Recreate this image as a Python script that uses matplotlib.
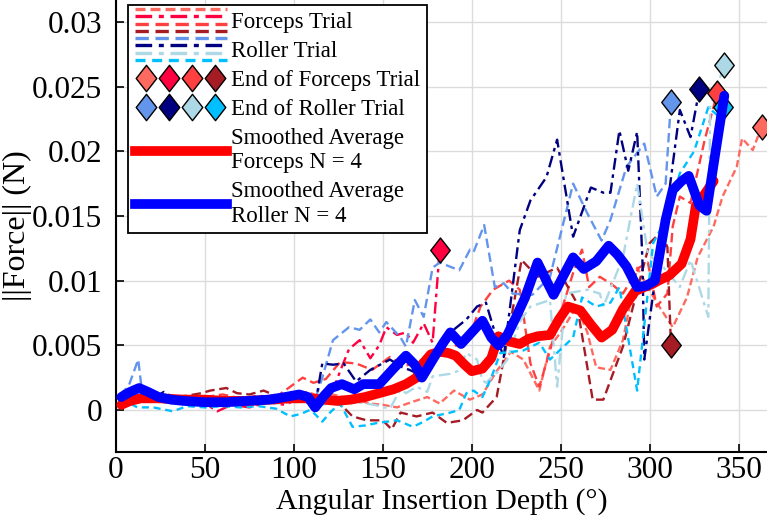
import numpy as np
import matplotlib
matplotlib.use("Agg")
import matplotlib.pyplot as plt
from matplotlib.lines import Line2D
from matplotlib.path import Path
from matplotlib.legend_handler import HandlerBase, HandlerTuple

plt.rcParams['font.family'] = ['Liberation Serif', 'DejaVu Serif']
plt.rcParams['mathtext.fontset'] = 'stix'

# ---------------- data ----------------
f1_x = [3, 10, 20, 30, 40, 50, 60, 70, 80, 90, 100, 108, 115, 122, 130, 137, 143, 150, 158, 166, 175, 182,
        190, 199, 206, 214, 222, 229, 238, 244, 250, 259, 265, 270, 278, 285, 293, 299, 304, 313, 321, 327,
        336, 341, 349, 352, 358, 363]
f1_y = [0.0006, 0.0009, 0.0007, 0.0008, 0.0009, 0.0008, 0.0010, 0.0009, 0.0008, 0.0010, 0.0012, 0.0014,
        0.0010, 0.0012, 0.0009, 0.0007, 0.0005, 0.0004, 0.0002, 0.0006, 0.0010, 0.0005, 0.0015, 0.0008,
        0.0012, 0.0030, 0.0045, 0.0039, 0.0015, 0.0049, 0.0060, 0.0080, 0.0060, 0.0033, 0.0031, 0.0054,
        0.0110, 0.0095, 0.0083, 0.0064, 0.0087, 0.0118, 0.0142, 0.0165, 0.0188, 0.0210, 0.0201, 0.0219]

f2_x = [3, 10, 20, 30, 40, 50, 57, 65, 75, 85, 95, 105, 112, 118, 122, 126, 131, 137, 143, 148, 152, 158,
        163, 167, 173, 178, 182]
f2_y = [0.0008, 0.0010, 0.0007, 0.0009, 0.0006, 0.0005, -0.0001, 0.0004, 0.0002, 0.0006, 0.0004, 0.0010,
        0.0008, 0.0008, 0.0015, 0.0030, 0.0047, 0.0054, 0.0040, 0.0050, 0.0064, 0.0058, 0.0060, 0.0052,
        0.0067, 0.0052, 0.0124]

f3_x = [3, 10, 20, 30, 40, 50, 60, 70, 80, 90, 98, 105, 111, 118, 126, 135, 144, 154, 162, 170, 178, 185,
        192, 199, 205, 212, 221, 227, 233, 238, 244, 250, 257, 262, 266, 272, 279, 285, 294, 299, 304, 310,
        313, 317, 323, 331, 338]
f3_y = [0.0008, 0.0012, 0.0010, 0.0011, 0.0009, 0.0010, 0.0012, 0.0009, 0.0011, 0.0010, 0.0018, 0.0025,
        0.0021, 0.0024, 0.0037, 0.0036, 0.0031, 0.0041, 0.0034, 0.0037, 0.0045, 0.0042, 0.0051, 0.0058,
        0.0080, 0.0093, 0.0100, 0.0093, 0.0036, 0.0018, 0.0046, 0.0075, 0.0106, 0.0124, 0.0095, 0.0103,
        0.0097, 0.0090, 0.0110, 0.0114, 0.0080, 0.0090, 0.0142, 0.0165, 0.0160, 0.0209, 0.0245]

f4_x = [3, 10, 20, 30, 40, 48, 53, 62, 68, 75, 83, 90, 98, 105, 111, 116, 122, 128, 133, 141, 150, 155,
        160, 169, 178, 186, 195, 203, 206, 214, 220, 228, 237, 248, 259, 268, 274, 285, 294, 300, 306, 310,
        312]
f4_y = [0.0009, 0.0010, 0.0012, 0.0010, 0.0011, 0.0013, 0.0015, 0.0017, 0.0013, 0.0012, 0.0015, 0.0011,
        0.0009, 0.0010, 0.0000, 0.0006, 0.0008, 0.0002, -0.0005, -0.0008, -0.0008, -0.0015, -0.0002,
        -0.0005, -0.0002, -0.0010, -0.0008, 0.0000, -0.0002, 0.0010, 0.0054, 0.0116, 0.0103, 0.0110,
        0.0083, 0.0008, 0.0008, 0.0049, 0.0098, 0.0129, 0.0137, 0.0126, 0.0050]

r1_x = [2, 7, 12.5, 15, 22, 30, 40, 50, 60, 70, 80, 90, 100, 108, 112, 116, 122, 131, 137, 143, 148, 152,
        160, 163, 168, 173, 178, 182, 193, 199, 201, 207, 213, 218, 223, 234, 244, 257, 265, 273, 278, 287,
        297, 304, 309, 312]
r1_y = [0.0012, 0.0018, 0.0039, 0.0010, 0.0008, 0.0007, 0.0006, 0.0007, 0.0006, 0.0007, 0.0006, 0.0008,
        0.0009, 0.0010, 0.0008, 0.0025, 0.0054, 0.0064, 0.0062, 0.0070, 0.0060, 0.0068, 0.0056, 0.0049,
        0.0085, 0.0072, 0.0110, 0.0114, 0.0108, 0.0124, 0.0122, 0.0143, 0.0095, 0.0098, 0.0090, 0.0089,
        0.0103, 0.0175, 0.0152, 0.0131, 0.0147, 0.0188, 0.0206, 0.0165, 0.0175, 0.0238]

r2_x = [3, 8, 14, 20, 27, 33, 40, 50, 60, 70, 80, 90, 100, 108, 112, 116, 122, 128, 135, 143, 154, 161,
        165, 173, 180, 188, 197, 203, 208, 213, 218, 227, 233, 242, 248, 257, 267, 274, 278, 283, 288, 293,
        296, 297, 302, 308, 317, 323, 328]
r2_y = [0.0009, 0.0010, 0.0008, 0.0009, 0.0014, 0.0009, 0.0008, 0.0007, 0.0008, 0.0007, 0.0008, 0.0009,
        0.0010, 0.0010, 0.0004, 0.0036, 0.0035, 0.0036, 0.0022, 0.0031, 0.0039, 0.0033, 0.0031, 0.0026,
        0.0041, 0.0060, 0.0070, 0.0080, 0.0083, 0.0060, 0.0041, 0.0139, 0.0162, 0.0180, 0.0209, 0.0134,
        0.0172, 0.0168, 0.0168, 0.0216, 0.0185, 0.0215, 0.0114, 0.0039, 0.0090, 0.0137, 0.0232, 0.0211,
        0.0248]

r3_x = [3, 10, 20, 30, 40, 50, 60, 70, 80, 90, 100, 110, 116, 125, 135, 145, 154, 160, 163, 169, 175, 178,
        188, 192, 197, 203, 206, 208, 215, 220, 227, 233, 244, 248, 253, 265, 272, 274, 285, 293, 299, 308,
        317, 323, 333, 334, 342]
r3_y = [0.0008, 0.0006, 0.0007, 0.0005, 0.0006, 0.0005, 0.0006, 0.0005, 0.0006, 0.0005, 0.0006, 0.0007,
        0.0004, 0.0007, 0.0006, 0.0004, 0.0001, 0.0016, 0.0013, 0.0018, 0.0014, 0.0026, 0.0028, 0.0030,
        0.0044, 0.0039, 0.0023, 0.0021, 0.0030, 0.0039, 0.0068, 0.0080, 0.0085, 0.0018, 0.0090, 0.0093,
        0.0090, 0.0080, 0.0118, 0.0175, 0.0121, 0.0110, 0.0095, 0.0116, 0.0072, 0.0234, 0.0267]

r4_x = [3, 8, 12, 21, 32, 40, 50, 60, 70, 80, 90, 98, 104, 109, 111, 116, 121, 126, 133, 140, 147, 158,
        167, 173, 178, 188, 193, 197, 201, 206, 211, 216, 229, 238, 244, 257, 262, 270, 278, 283, 293, 302,
        310, 317, 325, 333, 338, 341]
r4_y = [0.0010, 0.0005, 0.0002, 0.0002, -0.0001, 0.0003, 0.0002, 0.0003, 0.0002, 0.0003, 0.0001, -0.0005,
        -0.0003, 0.0000, -0.0002, -0.0009, -0.0001, 0.0005, -0.0013, -0.0012, -0.0010, -0.0008, -0.0013,
        -0.0009, -0.0005, -0.0002, 0.0000, 0.0013, 0.0015, 0.0010, 0.0025, 0.0044, 0.0046, 0.0052, 0.0039,
        0.0056, 0.0087, 0.0080, 0.0083, 0.0095, 0.0015, 0.0129, 0.0150, 0.0183, 0.0200, 0.0234, 0.0228,
        0.0234]

avg_f_x = [3, 8, 14, 25, 38, 50, 62, 75, 86, 98, 104, 110, 117, 124, 132, 140, 148, 156, 163, 169, 172,
           177, 182, 187, 191, 196, 200, 206, 211, 215, 221, 227, 232, 237, 244, 249, 254, 261, 267, 273,
           279, 285, 292, 297, 301, 305, 311, 318, 323, 326, 330, 336]
avg_f_y = [0.0004, 0.0007, 0.0009, 0.0009, 0.0008, 0.0008, 0.0007, 0.0007, 0.0008, 0.0009, 0.0009, 0.0009,
           0.0008, 0.0007, 0.0008, 0.0010, 0.0013, 0.0016, 0.0020, 0.0025, 0.0035, 0.0043, 0.0045, 0.0044,
           0.0042, 0.0035, 0.0030, 0.0032, 0.0040, 0.0057, 0.0053, 0.0051, 0.0055, 0.0057, 0.0058, 0.0070,
           0.0080, 0.0077, 0.0066, 0.0056, 0.0062, 0.0078, 0.0092, 0.0095, 0.0097, 0.0100, 0.0104, 0.0113,
           0.0132, 0.0158, 0.0165, 0.0177]

avg_r_x = [3, 8, 13, 18, 24, 31, 38, 50, 62, 74, 86, 95, 103, 108, 112, 117, 121, 127, 134, 139, 148, 152,
           156, 163, 168, 172, 179, 184, 188, 194, 200, 206, 211, 215, 220, 225, 230, 237, 242, 246, 252,
           257, 263, 270, 277, 282, 287, 293, 298, 303, 309, 313, 318, 322, 328, 332, 337, 342]
avg_r_y = [0.0010, 0.0014, 0.0017, 0.0014, 0.0010, 0.0008, 0.0007, 0.0006, 0.0006, 0.0007, 0.0008, 0.0010,
           0.0012, 0.0010, 0.0002, 0.0011, 0.0017, 0.0020, 0.0016, 0.0020, 0.0020, 0.0026, 0.0032, 0.0042,
           0.0035, 0.0025, 0.0041, 0.0052, 0.0060, 0.0051, 0.0060, 0.0069, 0.0056, 0.0050, 0.0058, 0.0072,
           0.0087, 0.0114, 0.0100, 0.0089, 0.0105, 0.0118, 0.0109, 0.0115, 0.0127, 0.0120, 0.0111, 0.0095,
           0.0096, 0.0100, 0.0147, 0.0170, 0.0177, 0.0181, 0.0158, 0.0154, 0.0199, 0.0243]

x_ticks = [0, 50, 100, 150, 200, 250, 300, 350]
y_ticks = [0, 0.005, 0.01, 0.015, 0.02, 0.025, 0.03]
y_tick_labels = ['0', '0.005', '0.01', '0.015', '0.02', '0.025', '0.03']

forceps = [(f1_x, f1_y), (f2_x, f2_y), (f3_x, f3_y), (f4_x, f4_y)]
roller = [(r1_x, r1_y), (r2_x, r2_y), (r3_x, r3_y), (r4_x, r4_y)]

# ---------------- styles ----------------
f_colors = ['#FF6A60', '#FF0040', '#FF4040', '#A51C24']
r_colors = ['#6495ED', '#000080', '#ADD8E6', '#00BFFF']
f_styles = [(0, (3, 1.5)), (0, (5, 2, 1.5, 2)), (0, (4, 2)), (0, (4, 2))]
r_styles = [(0, (4, 2)), (0, (5, 2, 1.5, 2)), (0, (5, 2, 1.5, 2)), (0, (3, 2))]

diamond = Path([(0, 1), (0.78, 0), (0, -1), (-0.78, 0), (0, 1)],
               [Path.MOVETO, Path.LINETO, Path.LINETO, Path.LINETO, Path.CLOSEPOLY])

fig = plt.figure(figsize=(7.67, 5.16), dpi=100)
ax = fig.add_axes([0.1512, 0.124, 0.8488, 0.876])

for (x, y), c, ls in zip(forceps, f_colors, f_styles):
    ax.plot(x, y, color=c, linestyle=ls, lw=1.7, zorder=2)
for (x, y), c, ls in zip(roller, r_colors, r_styles):
    ax.plot(x, y, color=c, linestyle=ls, lw=1.7, zorder=2)

for (x, y), c in zip(forceps, f_colors):
    ax.plot([x[-1]], [y[-1]], marker=diamond, ms=18, mfc=c, mec='black', mew=1.0,
            linestyle='none', zorder=3)
for (x, y), c in zip(roller, r_colors):
    ax.plot([x[-1]], [y[-1]], marker=diamond, ms=18, mfc=c, mec='black', mew=1.0,
            linestyle='none', zorder=3)

ax.plot(avg_f_x, avg_f_y, color='#FF0000', lw=7, zorder=4, solid_joinstyle='round',
        solid_capstyle='round')
ax.plot(avg_r_x, avg_r_y, color='#0000FF', lw=7, zorder=5, solid_joinstyle='round',
        solid_capstyle='round')

ax.set_xlim(0, 366)
ax.set_ylim(-0.00325, 0.0317)
ax.set_xticks(x_ticks)
ax.set_yticks(y_ticks)
ax.set_yticklabels(y_tick_labels)
ax.tick_params(direction='in', length=6, width=1.2, labelsize=22.5, top=False, right=False)
ax.tick_params(axis='x', pad=3)
ax.tick_params(axis='y', pad=10)
ax.grid(True, color='#DCDCDC', lw=1.0)
ax.set_axisbelow(True)
for s in ['top', 'right']:
    ax.spines[s].set_visible(False)
for s in ['left', 'bottom']:
    ax.spines[s].set_linewidth(1.5)
ax.set_xlabel('Angular Insertion Depth (°)', fontsize=21.5, labelpad=2)
ax.set_ylabel('||Force|| (N)', fontsize=23, labelpad=0)


# ---------------- legend ----------------
class StackedLines(HandlerBase):
    def __init__(self, colors, styles):
        super().__init__()
        self.colors = colors
        self.styles = styles

    def create_artists(self, legend, orig_handle, xdescent, ydescent, width, height, fontsize, trans):
        arts = []
        n = len(self.colors)
        for i, (c, ls) in enumerate(zip(self.colors, self.styles)):
            f = 1.2 - i * (1.4 / (n - 1))
            yy = -ydescent + height * f
            ln = Line2D([-xdescent, -xdescent + width], [yy, yy], color=c, linestyle=ls, lw=2.4,
                        transform=trans)
            arts.append(ln)
        return arts


h_f = Line2D([], [], color=f_colors[0])
h_r = Line2D([], [], color=r_colors[0])
h_fd = tuple(Line2D([], [], marker=diamond, ms=19, mfc=c, mec='black', mew=1.0, linestyle='none')
             for c in f_colors)
h_rd = tuple(Line2D([], [], marker=diamond, ms=19, mfc=c, mec='black', mew=1.0, linestyle='none')
             for c in r_colors)
h_fa = Line2D([], [], color='#FF0000', lw=7)
h_ra = Line2D([], [], color='#0000FF', lw=7)

leg = ax.legend([h_f, h_r, h_fd, h_rd, h_fa, h_ra],
                ['Forceps Trial', 'Roller Trial', 'End of Forceps Trial', 'End of Roller Trial',
                 'Smoothed Average\nForceps N = 4', 'Smoothed Average\nRoller N = 4'],
                handler_map={h_f: StackedLines(f_colors, f_styles),
                             h_r: StackedLines(r_colors, r_styles),
                             h_fd: HandlerTuple(ndivide=None, pad=0.0),
                             h_rd: HandlerTuple(ndivide=None, pad=0.0)},
                loc='upper left', bbox_to_anchor=(128 / 767, 1 - 5 / 516),
                bbox_transform=fig.transFigure, fontsize=16.5, handlelength=4.0,
                handletextpad=0.2, labelspacing=0.35, borderpad=0.3, borderaxespad=0,
                fancybox=False, framealpha=1, edgecolor='black', numpoints=1)
leg.get_frame().set_linewidth(1.3)
leg.set_zorder(10)

fig.savefig('out.png', dpi=100)
